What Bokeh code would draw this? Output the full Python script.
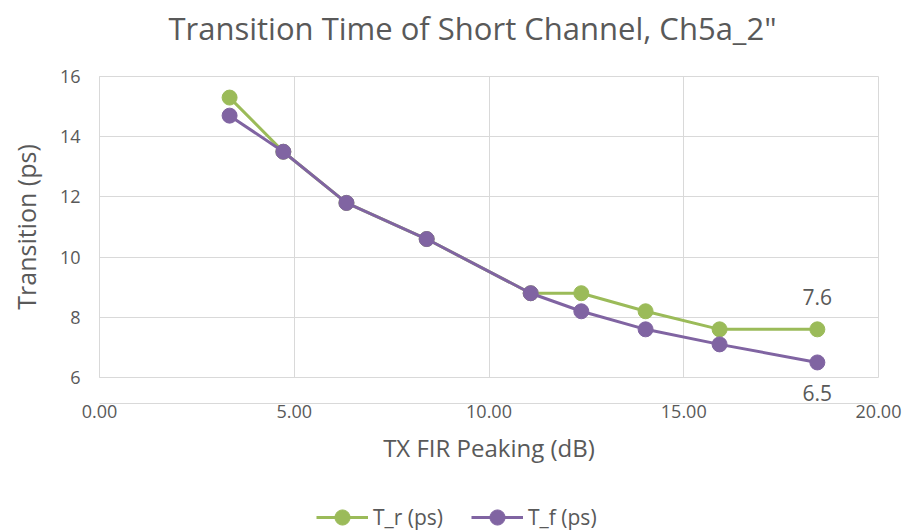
from bokeh.plotting import figure
from bokeh.embed import file_html
from bokeh.resources import INLINE
from bokeh.layouts import column
from bokeh.models import (Legend, LegendItem, NumeralTickFormatter, FixedTicker, Range1d,
                          ColumnDataSource, Label, LinearAxis)

title_text = "Transition Time of Short Channel, Ch5a_2\""
peaking = [3.34, 4.72, 6.34, 8.40, 11.07, 12.37, 14.02, 15.92, 18.43]
t_r = [15.3, 13.5, 11.8, 10.6, 8.8, 8.8, 8.2, 7.6, 7.6]
t_f = [14.7, 13.5, 11.8, 10.6, 8.8, 8.2, 7.6, 7.1, 6.5]
x_ticks = [0, 5, 10, 15, 20]
y_ticks = [6, 8, 10, 12, 14, 16]

GREEN = "#9BBB59"
PURPLE = "#8064A2"
TXT = "#595959"
GRID = "#D9D9D9"
FONT = "Open Sans"
W = 906


def bare(fig):
    fig.axis.visible = False
    fig.grid.visible = False
    fig.outline_line_color = None


# header strip with the chart title
hd = figure(width=W, height=50, output_backend="svg", toolbar_location=None,
            x_range=Range1d(0, 1), y_range=Range1d(0, 1),
            min_border_left=0, min_border_right=0, min_border_top=0, min_border_bottom=0)
bare(hd)
hd.add_layout(Label(x=373, y=23, x_units="screen", y_units="screen", text=title_text,
                    text_align="center", text_baseline="middle", text_font=FONT,
                    text_font_size="31px", text_color=TXT))

p = figure(width=W, height=421, output_backend="svg", toolbar_location=None,
           x_range=Range1d(0, 20), y_range=Range1d(6, 16),
           min_border_left=99, min_border_right=28, min_border_top=26, min_border_bottom=94)

p.outline_line_color = GRID
for ax in (p.xaxis[0], p.yaxis[0]):
    ax.axis_line_color = GRID
    ax.major_tick_line_color = None
    ax.minor_tick_line_color = None
    ax.major_tick_out = 0
    ax.major_label_text_font = FONT
    ax.major_label_text_font_size = "18px"
    ax.major_label_text_color = TXT
    ax.axis_label_text_font = FONT
    ax.axis_label_text_font_style = "normal"
    ax.axis_label_text_color = TXT

p.xaxis.axis_label_text_font_size = "24px"
p.yaxis.axis_label_text_font_size = "25px"
p.xaxis.ticker = FixedTicker(ticks=x_ticks)
p.yaxis.ticker = FixedTicker(ticks=y_ticks)
p.xaxis.formatter = NumeralTickFormatter(format="0.00")
p.xaxis.axis_label = "TX FIR Peaking (dB)"
p.yaxis.axis_label = "Transition (ps)"
p.yaxis.major_label_standoff = 19
p.xaxis.axis_label_standoff = 10
p.yaxis.axis_label_standoff = 14

p.xgrid.grid_line_color = GRID
p.ygrid.grid_line_color = GRID

src = ColumnDataSource(dict(x=peaking, r=t_r, f=t_f))
p.line("x", "r", source=src, line_color=GREEN, line_width=3)
p.scatter("x", "r", source=src, size=15, fill_color=GREEN, line_color=GREEN)
p.line("x", "f", source=src, line_color=PURPLE, line_width=3)
p.scatter("x", "f", source=src, size=15, fill_color=PURPLE, line_color=PURPLE)

# data label above the last T_r point
p.add_layout(Label(x=peaking[-1], y=t_r[-1], text=f"{t_r[-1]:.1f}", text_align="center",
                   text_baseline="bottom", y_offset=24, text_font=FONT,
                   text_font_size="21px", text_color=TXT))

# data label below the last T_f point: an extra axis row right under the frame
lab_axis = LinearAxis(ticker=FixedTicker(ticks=[peaking[-1]]),
                      major_label_overrides={peaking[-1]: f"{t_f[-1]:.1f}"},
                      axis_line_color=None, major_tick_line_color=None, minor_tick_line_color=None,
                      major_tick_out=0, major_tick_in=0, major_label_standoff=7,
                      major_label_text_font=FONT, major_label_text_font_size="21px",
                      major_label_text_color=TXT)
main_x = p.xaxis[0]
main_x.major_label_standoff = 1
p.below = [lab_axis, main_x]

# legend strip below the chart
lg = figure(width=W, height=60, output_backend="svg", toolbar_location=None,
            x_range=Range1d(-2, -1), y_range=Range1d(0, 1),
            min_border_left=0, min_border_right=0, min_border_top=0, min_border_bottom=0)
bare(lg)
lr = lg.line("x", "r", source=src, line_color=GREEN, line_width=3)
cr = lg.scatter("x", "r", source=src, size=15, fill_color=GREEN, line_color=GREEN)
lf = lg.line("x", "f", source=src, line_color=PURPLE, line_width=3)
cf = lg.scatter("x", "f", source=src, size=15, fill_color=PURPLE, line_color=PURPLE)
legend = Legend(items=[LegendItem(label="T_r (ps)", renderers=[lr, cr]),
                       LegendItem(label="T_f (ps)", renderers=[lf, cf])],
                orientation="horizontal", location=(217, -5),
                label_text_font=FONT, label_text_font_size="21px", label_text_color=TXT,
                glyph_width=52, glyph_height=38, spacing=28, label_standoff=5,
                background_fill_alpha=0, border_line_color=None, padding=0, margin=0)
lg.add_layout(legend, "center")

open("out.html", "w").write(file_html(column(hd, p, lg, spacing=0), INLINE))
